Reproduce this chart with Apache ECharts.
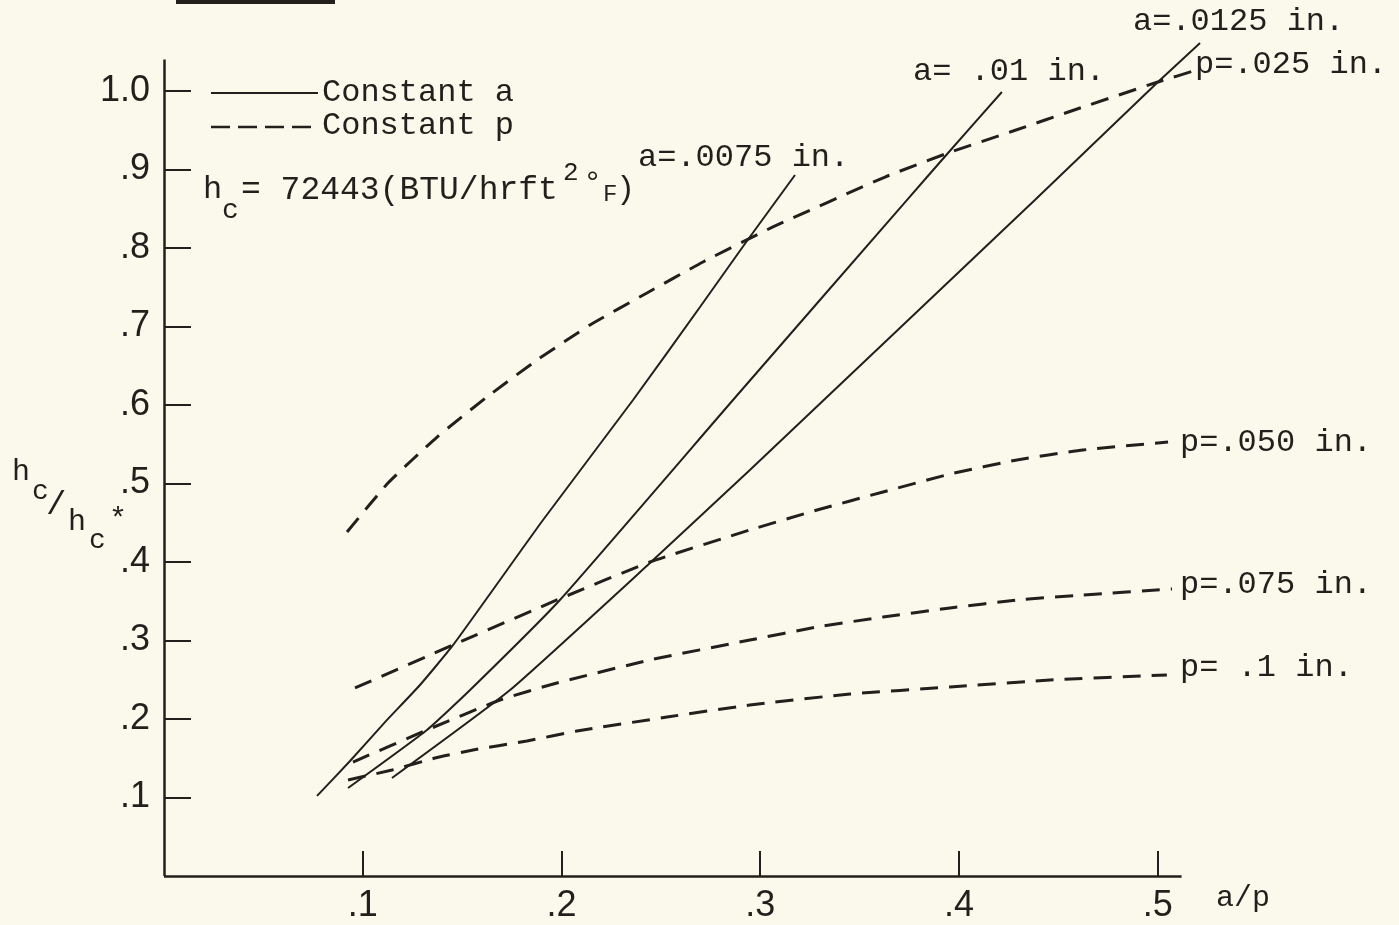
<!DOCTYPE html>
<html>
<head>
<meta charset="utf-8">
<title>hc/hc* vs a/p</title>
<script src="https://cdn.jsdelivr.net/npm/echarts@6/dist/echarts.min.js"></script>
<style>
  html, body { margin: 0; padding: 0; background: #fbf9eb; }
  #chart { width: 1399px; height: 925px; }
</style>
</head>
<body>
<div id="chart"></div>
<script>
// constant a (solid lines), x = a/p, y = hc/hc*
const a0075X = [0.077, 0.0936, 0.1112, 0.1288, 0.1454, 0.1907, 0.236, 0.2697, 0.2933, 0.3175];
const a0075Y = [0.102, 0.1465, 0.196, 0.2433, 0.294, 0.4535, 0.6064, 0.7248, 0.8089, 0.893];
const a010X = [0.0926, 0.1323, 0.154, 0.1992, 0.2863, 0.3738, 0.3945, 0.4216];
const a010Y = [0.1121, 0.186, 0.2369, 0.3516, 0.6064, 0.8611, 0.921, 0.9987];
const a0125X = [0.1147, 0.1741, 0.2445, 0.2948, 0.4382, 0.5001, 0.5213];
const a0125Y = [0.1248, 0.2369, 0.3987, 0.5172, 0.8611, 1.0115, 1.0611];

// constant p (dashed lines)
const p025X = [0.0921, 0.1127, 0.1374, 0.1625, 0.1877, 0.2143, 0.2430, 0.2712, 0.3064, 0.3628, 0.3945, 0.4272, 0.4609, 0.5001, 0.5197];
const p025Y = [0.4382, 0.5006, 0.5592, 0.6102, 0.6573, 0.7019, 0.7427, 0.7822, 0.8268, 0.8904, 0.9210, 0.9490, 0.9783, 1.0115, 1.0268];
const p050X = [0.0961, 0.1454, 0.1977, 0.2445, 0.2948, 0.3286, 0.3618, 0.3955, 0.4292, 0.4624, 0.5052];
const p050Y = [0.2395, 0.2943, 0.3516, 0.4000, 0.4408, 0.4662, 0.4892, 0.5121, 0.5300, 0.5427, 0.5529];
const p075X = [0.0951, 0.1323, 0.1691, 0.1977, 0.2445, 0.2948, 0.3286, 0.3618, 0.3955, 0.4292, 0.4624, 0.5072];
const p075Y = [0.1452, 0.1860, 0.2242, 0.2459, 0.2752, 0.3006, 0.3172, 0.3299, 0.3414, 0.3516, 0.3580, 0.3656];
const p100X = [0.0926, 0.1147, 0.1364, 0.1555, 0.1826, 0.2078, 0.2531, 0.2948, 0.3452, 0.3955, 0.4458, 0.5046];
const p100Y = [0.1223, 0.1350, 0.1503, 0.1605, 0.1720, 0.1847, 0.2025, 0.2178, 0.2318, 0.2408, 0.2497, 0.2561];

const xTicks = [0.1, 0.2, 0.3, 0.4, 0.5];
const xTickLabels = ['.1', '.2', '.3', '.4', '.5'];
const yTicks = [0.1, 0.2, 0.3, 0.4, 0.5, 0.6, 0.7, 0.8, 0.9, 1.0];
const yTickLabels = ['.1', '.2', '.3', '.4', '.5', '.6', '.7', '.8', '.9', '1.0'];
// drawn length of the two axis lines (curves run a little past them)
const xAxisEnd = 0.512;
const yAxisEnd = 1.04;

const ink = '#231f1c';
const mono = '"Liberation Mono", "DejaVu Sans Mono", monospace';

const zip = (xs, ys) => xs.map((x, i) => [x, ys[i]]);
const pick = (ticks, labels) => v => {
  const i = ticks.findIndex(t => Math.abs(t - v) < 1e-6);
  return i < 0 ? '' : labels[i];
};

const solid = (name, xs, ys) => ({
  name, type: 'line', data: zip(xs, ys), smooth: 0.15,
  showSymbol: false, symbol: 'none', silent: true,
  lineStyle: { color: ink, width: 2 }
});
const dashed = (name, xs, ys) => ({
  name, type: 'line', data: zip(xs, ys), smooth: 0.15,
  showSymbol: false, symbol: 'none', silent: true,
  lineStyle: { color: ink, width: 3, type: [18, 11] }
});

const txt = (s, x, y, size) => ({
  type: 'text', x, y, silent: true,
  style: { text: s, fill: ink, font: size + 'px ' + mono, verticalAlign: 'middle' }
});

const first = solid('a=.0075 in.', a0075X, a0075Y);
// axis lines, drawn through the axes' own scales
first.markLine = {
  silent: true, symbol: 'none', animation: false,
  label: { show: false },
  lineStyle: { color: ink, width: 2.5, type: 'solid' },
  data: [
    [{ coord: [0, 0] }, { coord: [xAxisEnd, 0] }],
    [{ coord: [0, 0] }, { coord: [0, yAxisEnd] }]
  ]
};

const chart = echarts.init(document.getElementById('chart'));
const option = {
  backgroundColor: '#fbf9eb',
  animation: false,
  grid: { left: 164, top: 36.05, width: 1043.4, height: 839.95 },
  xAxis: {
    type: 'value', min: 0, max: 0.525,
    axisLine: { show: false },
    axisTick: { show: true, inside: true, length: 25, customValues: xTicks, lineStyle: { color: ink, width: 2 } },
    axisLabel: {
      customValues: xTicks, formatter: pick(xTicks, xTickLabels), margin: 12,
      color: ink, fontSize: 36, fontFamily: '"Liberation Sans", sans-serif'
    },
    splitLine: { show: false }
  },
  yAxis: {
    type: 'value', min: 0, max: 1.07,
    axisLine: { show: false },
    axisTick: { show: true, inside: true, length: 27, customValues: yTicks, lineStyle: { color: ink, width: 2 } },
    axisLabel: {
      customValues: yTicks, formatter: pick(yTicks, yTickLabels), margin: 14,
      color: ink, fontSize: 36, fontFamily: '"Liberation Sans", sans-serif'
    },
    splitLine: { show: false }
  },
  series: [
    first,
    solid('a=.01 in.', a010X, a010Y),
    solid('a=.0125 in.', a0125X, a0125Y),
    dashed('p=.025 in.', p025X, p025Y),
    dashed('p=.050 in.', p050X, p050Y),
    dashed('p=.075 in.', p075X, p075Y),
    dashed('p=.1 in.', p100X, p100Y)
  ],
  graphic: [
    // cut-off title underline at the top edge
    { type: 'rect', shape: { x: 176, y: 0, width: 159, height: 4 }, style: { fill: ink }, silent: true },
    // legend
    { type: 'line', shape: { x1: 211, y1: 93, x2: 318, y2: 93 }, style: { stroke: ink, lineWidth: 2 }, silent: true },
    txt('Constant a', 322, 93, 32),
    { type: 'line', shape: { x1: 211, y1: 127, x2: 318, y2: 127 }, style: { stroke: ink, lineWidth: 2.5, lineDash: [19, 8] }, silent: true },
    txt('Constant p', 322, 126, 32),
    // hc = ...
    txt('h', 203, 190, 32),
    txt('c', 222, 211, 28),
    txt('= 72443(BTU/hrft', 241, 190, 33),
    txt('2', 563, 173, 26),
    txt('°', 583, 184, 32),
    txt('F', 603, 195, 24),
    txt(')', 616, 190, 32),
    // curve labels
    txt('a=.0075 in.', 638, 158, 32),
    txt('a= .01 in.', 913, 72, 32),
    txt('a=.0125 in.', 1133, 22, 32),
    txt('p=.025 in.', 1195, 65, 32),
    txt('p=.050 in.', 1180, 443, 32),
    txt('p=.075 in.', 1180, 585, 32),
    txt('p= .1 in.', 1180, 668, 32),
    // axis names
    txt('a/p', 1216, 898, 30),
    txt('h', 12, 472, 30),
    txt('c', 32, 492, 28),
    txt('/', 46, 505, 34),
    txt('h', 68, 522, 30),
    txt('c', 89, 541, 28),
    txt('*', 109, 520, 30)
  ]
};
chart.setOption(option);
</script>
</body>
</html>
